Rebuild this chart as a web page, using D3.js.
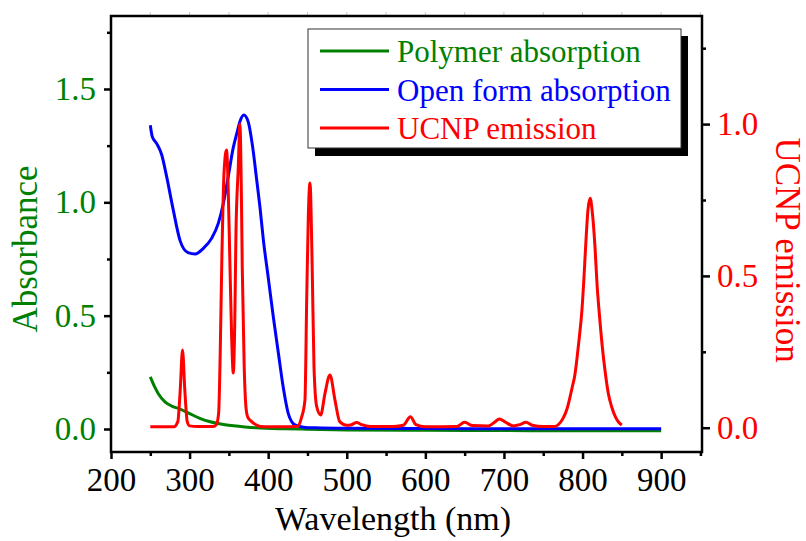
<!DOCTYPE html>
<html>
<head>
<meta charset="utf-8">
<script src="https://cdn.jsdelivr.net/npm/d3@7"></script>
<style>
  body { margin: 0; background: #fff; }
  svg text { font-family: "Liberation Serif", "Times New Roman", serif; }
</style>
</head>
<body>
<div id="chart"></div>
<script>
// Polymer absorption (left axis)
const polymerWl  = [250, 255, 260, 268.7, 278, 288, 300, 313, 325, 335, 345, 356, 370, 385, 398, 420, 450, 500, 600, 700, 800, 900];
const polymerAbs = [0.23, 0.19, 0.157, 0.12, 0.10, 0.088, 0.068, 0.047, 0.033, 0.025, 0.019, 0.014, 0.009, 0.005, 0.003, 0.001, -0.001, -0.004, -0.006, -0.007, -0.008, -0.008];

// Open form absorption (left axis)
const openWl  = [250, 252.5, 258, 264.5, 271, 279, 288, 298, 307, 317.5, 328, 336.5, 343, 349, 355.5, 360.5, 364, 369, 374.5, 380, 385, 389.5, 394, 400, 406.5, 413, 419, 425.5, 434, 445, 460, 500, 600, 700, 800, 900];
const openAbs = [1.34, 1.29, 1.26, 1.21, 1.11, 0.97, 0.83, 0.778, 0.772, 0.797, 0.841, 0.907, 0.996, 1.11, 1.24, 1.31, 1.356, 1.385, 1.356, 1.25, 1.11, 0.98, 0.83, 0.67, 0.495, 0.334, 0.187, 0.069, 0.018, 0.008, 0.005, 0.003, 0.002, 0.001, 0.001, 0.001];

// UCNP emission (right axis)
const ucnpWl  = [250, 280, 285, 288, 291, 294, 297, 300, 310, 330, 334, 337, 339, 341, 344, 347, 349, 351.4, 353.5, 355.6, 357.5, 359, 362, 364, 366, 367, 369.5, 372, 374, 379, 386, 390, 400, 420, 438, 442, 446.8, 449, 451, 453.2, 456, 458.3, 461.7, 466.8, 472.3, 478.6, 485, 491, 500, 506, 512.5, 519, 530, 560, 572, 581, 588, 600, 640, 650, 660, 680, 688, 694, 702, 712, 720, 728, 736, 750, 765, 770, 775, 780, 784, 787, 790, 793, 796, 799, 801.5, 804, 807, 809.7, 812, 815.8, 818.5, 821.3, 825, 828.5, 833, 837, 842, 846, 850];
const ucnpEm  = [0.003, 0.003, 0.02, 0.12, 0.256, 0.12, 0.02, 0.006, 0.004, 0.004, 0.01, 0.05, 0.25, 0.55, 0.85, 0.915, 0.8, 0.53, 0.3, 0.18, 0.35, 0.64, 0.86, 1.0, 0.75, 0.53, 0.2, 0.06, 0.035, 0.02, 0.008, 0.004, 0.003, 0.003, 0.005, 0.03, 0.091, 0.42, 0.69, 0.806, 0.53, 0.2, 0.07, 0.042, 0.113, 0.174, 0.091, 0.02, 0.008, 0.01, 0.017, 0.01, 0.004, 0.004, 0.008, 0.036, 0.01, 0.003, 0.004, 0.018, 0.007, 0.006, 0.018, 0.029, 0.018, 0.006, 0.01, 0.018, 0.008, 0.004, 0.004, 0.012, 0.03, 0.06, 0.1, 0.135, 0.17, 0.23, 0.3, 0.38, 0.48, 0.6, 0.72, 0.756, 0.72, 0.597, 0.47, 0.377, 0.27, 0.19, 0.11, 0.069, 0.035, 0.018, 0.009];

// Ticks
const xMajor = [200, 300, 400, 500, 600, 700, 800, 900];
const xMinor = [250, 350, 450, 550, 650, 750, 850, 950];
const xTop   = [250, 300, 350, 400, 450, 500, 550, 600, 650, 700, 750, 800, 850, 900, 950];
const leftMajor = [0, 0.5, 1.0, 1.5];
const leftMinor = [0.25, 0.75, 1.25, 1.75];
const rightMajor = [0, 0.5, 1.0];
const rightMinor = [0.25, 0.75, 1.25];

const legendItems = [
  {label: "Polymer absorption", color: "#008000"},
  {label: "Open form absorption", color: "#0000ff"},
  {label: "UCNP emission", color: "#ff0000"}
];

const W = 806, H = 541;
const margin = {top: 16, right: 104, bottom: 89, left: 111};
const width = W - margin.left - margin.right;
const height = H - margin.top - margin.bottom;

const svg = d3.select('#chart').append('svg')
  .attr('width', W)
  .attr('height', H);

const g = svg.append('g')
  .attr('transform', `translate(${margin.left},${margin.top})`);

const x = d3.scaleLinear().domain([200, 952]).range([0, width]);
const yL = d3.scaleLinear().domain([-0.1015, 1.822]).range([height, 0]);
const yR = d3.scaleLinear().domain([-0.080, 1.356]).range([height, 0]);

// Faint ticks on top edge
g.selectAll('.top-tick')
  .data(xTop)
  .enter().append('line')
  .attr('x1', d => x(d)).attr('x2', d => x(d))
  .attr('y1', -1).attr('y2', -4)
  .attr('stroke', '#c8c8c8')
  .attr('stroke-width', 1);

// Curves
const makeLine = (y) => d3.line()
  .x(d => x(d[0]))
  .y(d => y(d[1]))
  .curve(d3.curveMonotoneX);

const series = [
  {wl: polymerWl, v: polymerAbs, y: yL, color: "#008000"},
  {wl: openWl, v: openAbs, y: yL, color: "#0000ff"},
  {wl: ucnpWl, v: ucnpEm, y: yR, color: "#ff0000"}
];

series.forEach(s => {
  g.append('path')
    .datum(s.wl.map((w, i) => [w, s.v[i]]))
    .attr('fill', 'none')
    .attr('stroke', s.color)
    .attr('stroke-width', 3)
    .attr('stroke-linejoin', 'round')
    .attr('d', makeLine(s.y));
});

// Frame
g.append('rect')
  .attr('x', 0).attr('y', 0)
  .attr('width', width).attr('height', height)
  .attr('fill', 'none')
  .attr('stroke', '#000')
  .attr('stroke-width', 2.5);

const styleAxis = (sel, color) => {
  sel.select('.domain').remove();
  sel.selectAll('.tick line').attr('stroke', '#000').attr('stroke-width', 2.5);
  sel.selectAll('.tick text')
    .attr('fill', color)
    .style('font-size', '33px')
    .style('font-family', '"Liberation Serif", "Times New Roman", serif');
};

// Bottom axis
g.append('g')
  .attr('transform', `translate(0,${height})`)
  .call(d3.axisBottom(x).tickValues(xMajor).tickSize(7).tickPadding(9).tickFormat(d3.format('d')))
  .call(s => styleAxis(s, '#000'));
g.append('g')
  .attr('transform', `translate(0,${height})`)
  .call(d3.axisBottom(x).tickValues(xMinor).tickSize(4).tickFormat(''))
  .call(s => styleAxis(s, '#000'));

// Left axis
g.append('g')
  .call(d3.axisLeft(yL).tickValues(leftMajor).tickSize(7).tickPadding(8).tickFormat(d3.format('.1f')))
  .call(s => styleAxis(s, '#008000'));
g.append('g')
  .call(d3.axisLeft(yL).tickValues(leftMinor).tickSize(4).tickFormat(''))
  .call(s => styleAxis(s, '#008000'));

// Right axis
g.append('g')
  .attr('transform', `translate(${width},0)`)
  .call(d3.axisRight(yR).tickValues(rightMajor).tickSize(8).tickPadding(7).tickFormat(d3.format('.1f')))
  .call(s => styleAxis(s, '#ff0000'));
g.append('g')
  .attr('transform', `translate(${width},0)`)
  .call(d3.axisRight(yR).tickValues(rightMinor).tickSize(4).tickFormat(''))
  .call(s => styleAxis(s, '#ff0000'));

// Axis titles
svg.append('text')
  .attr('x', 393).attr('y', 530)
  .attr('text-anchor', 'middle')
  .style('font-size', '34px')
  .attr('fill', '#000')
  .text('Wavelength (nm)');

svg.append('text')
  .attr('transform', 'translate(37,249) rotate(-90)')
  .attr('text-anchor', 'middle')
  .style('font-size', '35px')
  .attr('fill', '#008000')
  .text('Absorbance');

svg.append('text')
  .attr('transform', 'translate(776,250) rotate(90)')
  .attr('text-anchor', 'middle')
  .style('font-size', '35px')
  .attr('fill', '#ff0000')
  .text('UCNP emission');

// Legend
const legend = svg.append('g');
legend.append('rect')
  .attr('x', 315).attr('y', 36)
  .attr('width', 373).attr('height', 120)
  .attr('fill', '#000');
legend.append('rect')
  .attr('x', 308).attr('y', 29)
  .attr('width', 373).attr('height', 119)
  .attr('fill', '#fff')
  .attr('stroke', '#333')
  .attr('stroke-width', 1);

legendItems.forEach((item, i) => {
  const ly = 51 + i * 38.5;
  legend.append('line')
    .attr('x1', 320).attr('x2', 389)
    .attr('y1', ly).attr('y2', ly)
    .attr('stroke', item.color)
    .attr('stroke-width', 3);
  legend.append('text')
    .attr('x', 397).attr('y', ly + 11)
    .style('font-size', '31px')
    .attr('fill', item.color)
    .text(item.label);
});
</script>
</body>
</html>
